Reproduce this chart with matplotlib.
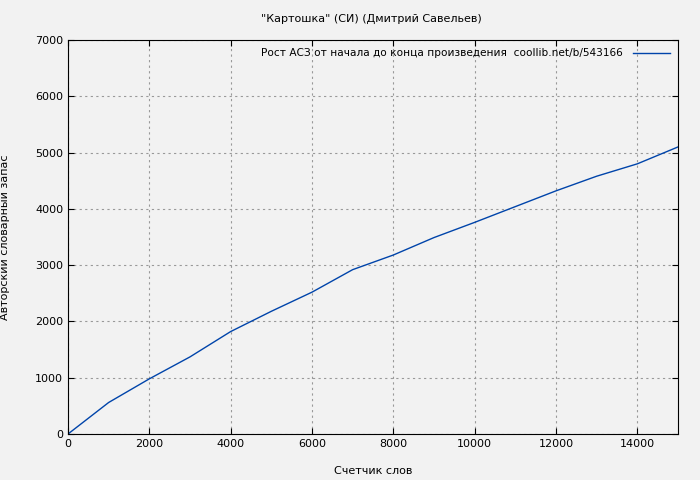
import matplotlib
matplotlib.use("Agg")
import matplotlib.pyplot as plt

words = [0, 1000, 2000, 3000, 4000, 5000, 6000, 7000, 8000, 9000, 10000, 11000, 12000, 13000, 14000, 15000]
vocab = [0, 560, 980, 1370, 1820, 2180, 2520, 2920, 3180, 3490, 3760, 4040, 4320, 4580, 4800, 5100]
xticks = list(range(0, 15001, 2000))
yticks = list(range(0, 7001, 1000))

plt.rcParams['font.family'] = ['DejaVu Sans']
plt.rcParams['font.size'] = 8
fig = plt.figure(figsize=(7, 4.8), dpi=100, facecolor='#f2f2f2')
ax = fig.add_axes([68/700, 46/480, 610/700, 394/480])
ax.set_facecolor('#f2f2f2')
ax.plot(words, vocab, color='#0044aa', lw=1,
        label='Рост АСЗ от начала до конца произведения  coollib.net/b/543166')
ax.set_xlim(0, 15000)
ax.set_ylim(0, 7000)
ax.set_xticks(xticks)
ax.set_yticks(yticks)
ax.grid(True, color='#999999', linestyle=(0, (2, 3)), lw=0.8)
ax.tick_params(direction='in', length=4, top=True, right=True, labelsize=8)
for s in ax.spines.values():
    s.set_color('black')
ax.set_xlabel('Счетчик слов', fontsize=8, labelpad=12)
ax.set_ylabel('Авторский словарный запас', fontsize=8, labelpad=18)
fig.text(0.53, 0.955, '"Картошка" (СИ) (Дмитрий Савельев)', ha='center', fontsize=8)
leg = ax.legend(loc='upper right', frameon=False, markerfirst=False, fontsize=7.6,
                handlelength=3.5, borderaxespad=0.4, handletextpad=0.9)
fig.savefig('out.png', dpi=100, facecolor='#f2f2f2')
